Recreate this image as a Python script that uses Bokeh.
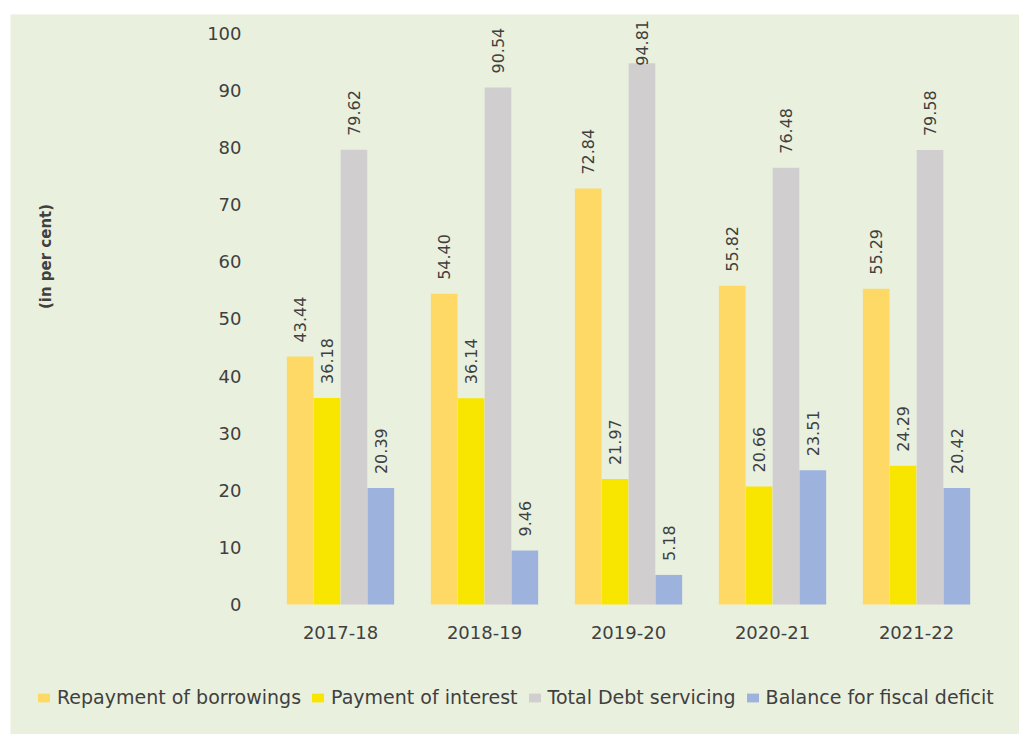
import math
from bokeh.plotting import figure
from bokeh.models import (ColumnDataSource, Range1d, Legend, LegendItem,
                          FixedTicker, Label, BoxAnnotation)
from bokeh.core.properties import value
from bokeh.embed import file_html
from bokeh.resources import INLINE

# ---- data ----
years = ["2017-18", "2018-19", "2019-20", "2020-21", "2021-22"]
repayment = [43.44, 54.40, 72.84, 55.82, 55.29]
interest = [36.18, 36.14, 21.97, 20.66, 24.29]
total_debt = [79.62, 90.54, 94.81, 76.48, 79.58]
balance = [20.39, 9.46, 5.18, 23.51, 20.42]
series_names = ["Repayment of borrowings", "Payment of interest",
                "Total Debt servicing", "Balance for fiscal deficit"]
y_ticks = [0, 10, 20, 30, 40, 50, 60, 70, 80, 90, 100]
y_title = "(in per cent)"

# ---- style ----
colors = ["#FFD966", "#F9E600", "#D0CECE", "#9DB2DC"]
offsets = [-0.28, -0.0935, 0.0935, 0.28]
bar_w = 0.185
bg = "#EAF0DE"
txt = "#404040"
FONT = "DejaVu Sans"
W, H = 1019, 734
label_ceiling = 91.9   # data labels are kept inside the chart area (as in Excel)

centers = list(range(len(years)))
series = [repayment, interest, total_debt, balance]

p = figure(width=W, height=H, x_range=Range1d(-2.361, 4.715),
           y_range=Range1d(-22.77, 105.78), output_backend="svg",
           toolbar_location=None, min_border=0)
p.background_fill_color = "white"
p.border_fill_color = "white"
p.outline_line_color = None
p.xgrid.visible = False
p.ygrid.visible = False

panel = BoxAnnotation(left=10, left_units="screen", top=H - 14,
                      top_units="screen", fill_color=bg, fill_alpha=1,
                      line_color=None, level="underlay")
p.add_layout(panel)

items = []
for i, name in enumerate(series_names):
    src = ColumnDataSource(dict(
        x=[c + offsets[i] for c in centers], top=series[i],
        ly=[min(v, label_ceiling) for v in series[i]],
        lbl=["%.2f" % v for v in series[i]]))
    r = p.vbar(x="x", top="top", width=bar_w, source=src,
               fill_color=colors[i], line_color=None)
    p.text(x="x", y="ly", text="lbl", source=src, angle=math.pi / 2,
           text_align="left", text_baseline="middle", y_offset=-14,
           text_font=value(FONT), text_font_size="16px", text_color=txt)
    items.append(LegendItem(label=name, renderers=[r]))

for ax in (p.xaxis[0], p.yaxis[0]):
    ax.axis_line_color = None
    ax.major_tick_line_color = None
    ax.minor_tick_line_color = None
    ax.major_label_text_font = FONT
    ax.major_label_text_font_size = "18px"
    ax.major_label_text_color = txt
p.yaxis.ticker = FixedTicker(ticks=y_ticks)
p.yaxis.fixed_location = -0.5
p.yaxis.major_label_standoff = 21
p.xaxis.ticker = FixedTicker(ticks=centers)
p.xaxis.major_label_overrides = {c: y for c, y in zip(centers, years)}
p.xaxis.fixed_location = 0
p.xaxis.major_label_standoff = 16

ylab = Label(x=45, y=H - 256, x_units="screen", y_units="screen",
             text=y_title, angle=math.pi / 2, text_align="center",
             text_baseline="middle", text_font=FONT, text_font_style="bold",
             text_font_size="15px", text_color=txt)
p.add_layout(ylab)

legend = Legend(items=items, orientation="horizontal", location=(36, 26),
                glyph_width=15, glyph_height=11, label_standoff=6, spacing=9,
                padding=0, margin=0, background_fill_alpha=0,
                border_line_color=None, label_text_font=FONT,
                label_text_font_size="19px", label_text_color=txt)
p.add_layout(legend)

open("out.html", "w").write(file_html(p, INLINE))
